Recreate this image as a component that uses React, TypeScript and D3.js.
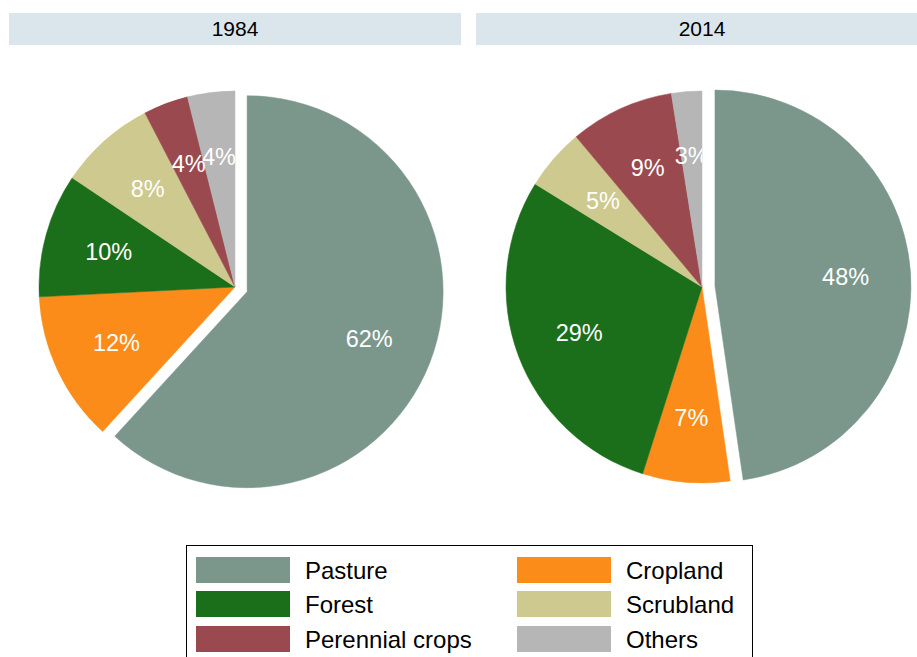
import React from "react";
import * as d3 from "d3";

const categories = ["Pasture", "Cropland", "Forest", "Scrubland", "Perennial crops", "Others"];
const colors = ["#7b978c", "#fb8c1a", "#1b6e1a", "#cec98e", "#9a4a4f", "#b6b6b6"];
const years = ["1984", "2014"];
const values1984 = [61.8, 12.4, 10.2, 8.0, 3.7, 3.9];
const values2014 = [47.7, 7.2, 28.9, 5.1, 8.6, 2.5];
const legendOrder = ["Pasture", "Cropland", "Forest", "Scrubland", "Perennial crops", "Others"];

const W = 917;
const H = 657;
const R = 196;
const LABEL_R = 131;
const EXPLODE = 13;

type PieProps = { values: number[]; cx: number; cy: number; id: string };

function Pie({ values, cx, cy, id }: PieProps) {
  const data = categories.map((c, i) => ({ cat: c, v: values[i], color: colors[i] }));
  const total = d3.sum(values);
  const pie = d3
    .pie<{ cat: string; v: number; color: string }>()
    .sort(null)
    .value((d) => d.v)
    .startAngle(0)
    .endAngle(2 * Math.PI);
  const arcs = pie(data);
  const arc = d3.arc<any>().innerRadius(0).outerRadius(R);
  const offsets = arcs.map((a, i) => {
    const mid = (a.startAngle + a.endAngle) / 2;
    const e = i === 0 ? EXPLODE : 0;
    return [e * Math.sin(mid), -e * Math.cos(mid)];
  });
  return (
    <g transform={`translate(${cx},${cy})`}>
      <defs>
        <clipPath id={`clip-${id}`}>
          {arcs.map((a, i) => (
            <path key={i} d={arc(a) as string} transform={`translate(${offsets[i][0]},${offsets[i][1]})`} />
          ))}
        </clipPath>
      </defs>
      {arcs.map((a, i) => (
        <path
          key={i}
          d={arc(a) as string}
          fill={a.data.color}
          stroke={a.data.color}
          strokeWidth={0.5}
          transform={`translate(${offsets[i][0]},${offsets[i][1]})`}
        />
      ))}
      <g clipPath={`url(#clip-${id})`}>
        {arcs.map((a, i) => {
          const mid = (a.startAngle + a.endAngle) / 2;
          const x = offsets[i][0] + LABEL_R * Math.sin(mid);
          const y = offsets[i][1] - LABEL_R * Math.cos(mid);
          return (
            <text
              key={i}
              x={x}
              y={y}
              textAnchor="middle"
              dominantBaseline="central"
              fill="#ffffff"
              fontSize={23.5}
              fontFamily="'Liberation Sans', Arial, sans-serif"
            >
              {`${Math.round((a.data.v / total) * 100)}%`}
            </text>
          );
        })}
      </g>
    </g>
  );
}

export default function App() {
  const strips = [
    { x: 9, w: 452, cx: 235 },
    { x: 476, w: 441, cx: 702 },
  ];
  const legendCols = [196, 517];
  const legendRows = [557, 591, 626];
  return (
    <div style={{ position: "fixed", left: 0, top: 0 }}>
      <svg width={W} height={H} style={{ display: "block", background: "#ffffff" }}>
        {strips.map((s, i) => (
          <g key={i}>
            <rect x={s.x} y={13} width={s.w} height={32} fill="#dae6ec" />
            <text
              x={s.cx}
              y={28}
              textAnchor="middle"
              dominantBaseline="central"
              fontSize={21}
              fontFamily="'Liberation Sans', Arial, sans-serif"
              fill="#000"
            >
              {years[i]}
            </text>
          </g>
        ))}
        <Pie values={values1984} cx={235} cy={287} id="p1984" />
        <Pie values={values2014} cx={702} cy={287} id="p2014" />
        <rect x={186.5} y={545.5} width={566} height={125} fill="none" stroke="#000" strokeWidth={1} />
        {legendOrder.map((name, i) => {
          const col = i % 2;
          const row = Math.floor(i / 2);
          const ci = categories.indexOf(name);
          return (
            <g key={name}>
              <rect x={legendCols[col]} y={legendRows[row]} width={94} height={26} fill={colors[ci]} />
              <text
                x={legendCols[col] + 109}
                y={legendRows[row] + 13}
                dominantBaseline="central"
                fontSize={24}
                fontFamily="'Liberation Sans', Arial, sans-serif"
                fill="#000"
              >
                {name}
              </text>
            </g>
          );
        })}
      </svg>
    </div>
  );
}
